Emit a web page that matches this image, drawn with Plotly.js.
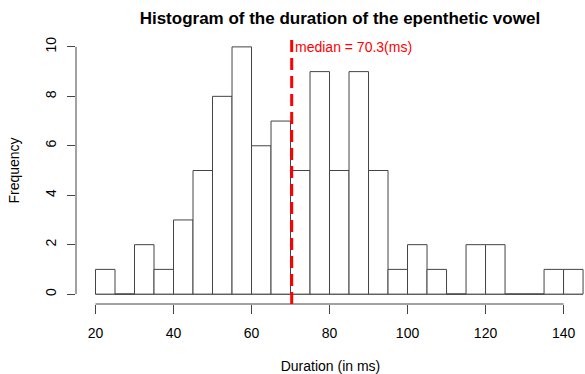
<!DOCTYPE html>
<html>
<head>
<meta charset="utf-8">
<script src="https://cdn.plot.ly/plotly-3.0.1.min.js"></script>
<style>html,body{margin:0;padding:0;background:#fff;}#chart{width:585px;height:374px;}</style>
</head>
<body>
<div id="chart"></div>
<script>
// Histogram bins (left edges, width 5 ms) and their counts
const binStarts = [20,25,30,35,40,45,50,55,60,65,70,75,80,85,90,95,100,105,110,115,120,125,130,135,140];
const binWidth = 5;
const counts    = [1,0,2,1,3,5,8,10,6,7,5,9,5,9,5,1,2,1,0,2,2,0,0,1,1];
const medianValue = 70.3;
const xTickVals = [20,40,60,80,100,120,140];
const yTickVals = [0,2,4,6,8,10];

const centers = binStarts.map(s => s + binWidth / 2);
const lastEdge = binStarts[binStarts.length - 1] + binWidth;

const trace = {
  type: 'bar',
  x: centers,
  y: counts,
  width: binStarts.map(() => binWidth),
  marker: {color: '#ffffff', line: {color: '#444444', width: 1}},
  hoverinfo: 'x+y'
};

const font = "'Liberation Sans', Arial, Helvetica, sans-serif";

const layout = {
  width: 585, height: 374,
  margin: {l: 76, r: 0, t: 37, b: 70},
  paper_bgcolor: '#ffffff', plot_bgcolor: '#ffffff',
  font: {family: font, size: 14, color: '#000'},
  showlegend: false,
  bargap: 0,
  title: {
    text: '<b>Histogram of the duration of the epenthetic vowel</b>',
    font: {family: font, size: 17, color: '#000'},
    xref: 'container', x: 0.581, xanchor: 'center',
    yref: 'container', y: 0.952, yanchor: 'middle'
  },
  xaxis: {
    range: [15, 145.5],
    tickvals: xTickVals,
    ticks: 'outside', ticklen: 9, tickwidth: 1, tickcolor: '#444',
    showgrid: false, zeroline: false, showline: false,
    ticklabelstandoff: 7,
    tickfont: {family: font, size: 14, color: '#000'},
    title: {text: 'Duration (in ms)', font: {family: font, size: 14, color: '#000'}, standoff: 21},
    fixedrange: true
  },
  yaxis: {
    range: [-0.4, 10.4],
    tickvals: yTickVals,
    ticks: 'outside', ticklen: 8.5, tickwidth: 1, tickcolor: '#444',
    tickangle: -90,
    showgrid: false, zeroline: false, showline: false,
    ticklabelstandoff: 5,
    tickfont: {family: font, size: 14, color: '#000'},
    title: {text: 'Frequency', font: {family: font, size: 14, color: '#000'}, standoff: 20},
    fixedrange: true
  },
  shapes: [
    // x axis line (from first to last tick)
    {type: 'line', xref: 'x', yref: 'paper', x0: xTickVals[0], x1: xTickVals[xTickVals.length-1], y0: 0, y1: 0,
     line: {color: '#444', width: 1}},
    // y axis line
    {type: 'line', xref: 'paper', yref: 'y', x0: 0, x1: 0, y0: yTickVals[0], y1: yTickVals[yTickVals.length-1],
     line: {color: '#444', width: 1}},
    // baseline of histogram
    {type: 'line', xref: 'x', yref: 'y', x0: binStarts[0], x1: lastEdge, y0: 0, y1: 0,
     line: {color: '#444', width: 1}, layer: 'below'},
    // median line
    {type: 'line', xref: 'x', yref: 'paper', x0: medianValue, x1: medianValue, y0: 0, y1: 1,
     line: {color: '#ff0000', width: 3, dash: '12px,6px'}}
  ],
  annotations: [
    {x: medianValue, y: 10, xref: 'x', yref: 'y', xanchor: 'left', yanchor: 'middle', xshift: 1,
     text: 'median = ' + medianValue + '(ms)', showarrow: false,
     font: {family: font, size: 14, color: '#ff0000'}}
  ]
};

Plotly.newPlot('chart', [trace], layout, {displayModeBar: false, staticPlot: true});
</script>
</body>
</html>
